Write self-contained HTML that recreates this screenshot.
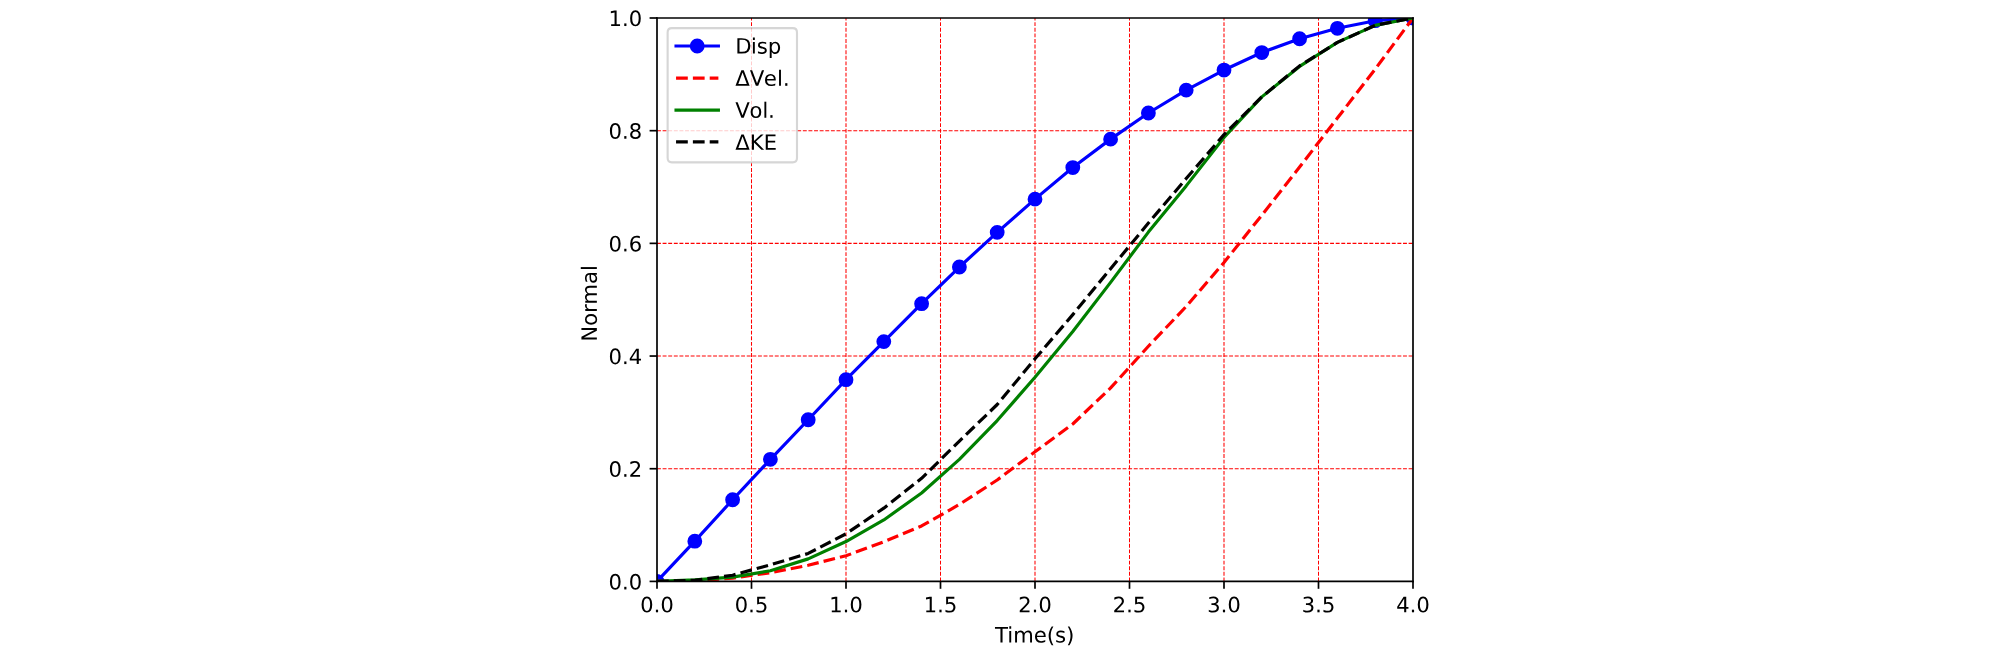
<!DOCTYPE html>
<html><head><meta charset="utf-8"><style>
html,body{margin:0;padding:0;background:#fff;font-family:"Liberation Sans",sans-serif;}
body{width:2008px;height:649px;overflow:hidden;}
</style></head><body>
<svg width="2008" height="649" viewBox="0 0 948.661417 306.614173" style="display:block">
<defs>
<style type="text/css">*{stroke-linejoin: round; stroke-linecap: butt}</style>
</defs>
<g id="figure_1">
<g id="patch_1">
<path d="M 0 306.614173
L 948.661417 306.614173
L 948.661417 0
L 0 0
z
" style="fill: #ffffff"/>
</g>
<g id="axes_1">
<g id="patch_2">
<path d="M 310.393701 274.677165
L 667.559055 274.677165
L 667.559055 8.503937
L 310.393701 8.503937
z
" style="fill: #ffffff"/>
</g>
<g id="matplotlib.axis_1">
<g id="xtick_1">
<g id="line2d_1">
<defs>
<path id="mb2d744a13c" d="M 0 0
L 0 3.5
" style="stroke: #000000; stroke-width: 0.8"/>
</defs>
<g>
<use href="#mb2d744a13c" x="310.393701" y="274.677165" style="stroke: #000000; stroke-width: 0.8"/>
</g>
</g>
<g id="text_1">
<!-- 0.0 -->
<g transform="translate(302.442138 289.275603) scale(0.1 -0.1)">
<defs>
<path id="DejaVuSans-30" d="M 2034 4250
Q 1547 4250 1301 3770
Q 1056 3291 1056 2328
Q 1056 1369 1301 889
Q 1547 409 2034 409
Q 2525 409 2770 889
Q 3016 1369 3016 2328
Q 3016 3291 2770 3770
Q 2525 4250 2034 4250
z
M 2034 4750
Q 2819 4750 3233 4129
Q 3647 3509 3647 2328
Q 3647 1150 3233 529
Q 2819 -91 2034 -91
Q 1250 -91 836 529
Q 422 1150 422 2328
Q 422 3509 836 4129
Q 1250 4750 2034 4750
z
" transform="scale(0.015625)"/>
<path id="DejaVuSans-2e" d="M 684 794
L 1344 794
L 1344 0
L 684 0
L 684 794
z
" transform="scale(0.015625)"/>
</defs>
<use href="#DejaVuSans-30"/>
<use href="#DejaVuSans-2e" transform="translate(63.623047 0)"/>
<use href="#DejaVuSans-30" transform="translate(95.410156 0)"/>
</g>
</g>
</g>
<g id="xtick_2">
<g id="line2d_2">
<path d="M 355.03937 274.677165
L 355.03937 8.503937
" clip-path="url(#pbe2b9a3860)" style="fill: none; stroke-dasharray: 1.85,0.8; stroke-dashoffset: 0; stroke: #ff0000; stroke-width: 0.5"/>
</g>
<g id="line2d_3">
<g>
<use href="#mb2d744a13c" x="355.03937" y="274.677165" style="stroke: #000000; stroke-width: 0.8"/>
</g>
</g>
<g id="text_2">
<!-- 0.5 -->
<g transform="translate(347.087808 289.275603) scale(0.1 -0.1)">
<defs>
<path id="DejaVuSans-35" d="M 691 4666
L 3169 4666
L 3169 4134
L 1269 4134
L 1269 2991
Q 1406 3038 1543 3061
Q 1681 3084 1819 3084
Q 2600 3084 3056 2656
Q 3513 2228 3513 1497
Q 3513 744 3044 326
Q 2575 -91 1722 -91
Q 1428 -91 1123 -41
Q 819 9 494 109
L 494 744
Q 775 591 1075 516
Q 1375 441 1709 441
Q 2250 441 2565 725
Q 2881 1009 2881 1497
Q 2881 1984 2565 2268
Q 2250 2553 1709 2553
Q 1456 2553 1204 2497
Q 953 2441 691 2322
L 691 4666
z
" transform="scale(0.015625)"/>
</defs>
<use href="#DejaVuSans-30"/>
<use href="#DejaVuSans-2e" transform="translate(63.623047 0)"/>
<use href="#DejaVuSans-35" transform="translate(95.410156 0)"/>
</g>
</g>
</g>
<g id="xtick_3">
<g id="line2d_4">
<path d="M 399.685039 274.677165
L 399.685039 8.503937
" clip-path="url(#pbe2b9a3860)" style="fill: none; stroke-dasharray: 1.85,0.8; stroke-dashoffset: 0; stroke: #ff0000; stroke-width: 0.5"/>
</g>
<g id="line2d_5">
<g>
<use href="#mb2d744a13c" x="399.685039" y="274.677165" style="stroke: #000000; stroke-width: 0.8"/>
</g>
</g>
<g id="text_3">
<!-- 1.0 -->
<g transform="translate(391.733477 289.275603) scale(0.1 -0.1)">
<defs>
<path id="DejaVuSans-31" d="M 794 531
L 1825 531
L 1825 4091
L 703 3866
L 703 4441
L 1819 4666
L 2450 4666
L 2450 531
L 3481 531
L 3481 0
L 794 0
L 794 531
z
" transform="scale(0.015625)"/>
</defs>
<use href="#DejaVuSans-31"/>
<use href="#DejaVuSans-2e" transform="translate(63.623047 0)"/>
<use href="#DejaVuSans-30" transform="translate(95.410156 0)"/>
</g>
</g>
</g>
<g id="xtick_4">
<g id="line2d_6">
<path d="M 444.330709 274.677165
L 444.330709 8.503937
" clip-path="url(#pbe2b9a3860)" style="fill: none; stroke-dasharray: 1.85,0.8; stroke-dashoffset: 0; stroke: #ff0000; stroke-width: 0.5"/>
</g>
<g id="line2d_7">
<g>
<use href="#mb2d744a13c" x="444.330709" y="274.677165" style="stroke: #000000; stroke-width: 0.8"/>
</g>
</g>
<g id="text_4">
<!-- 1.5 -->
<g transform="translate(436.379146 289.275603) scale(0.1 -0.1)">
<use href="#DejaVuSans-31"/>
<use href="#DejaVuSans-2e" transform="translate(63.623047 0)"/>
<use href="#DejaVuSans-35" transform="translate(95.410156 0)"/>
</g>
</g>
</g>
<g id="xtick_5">
<g id="line2d_8">
<path d="M 488.976378 274.677165
L 488.976378 8.503937
" clip-path="url(#pbe2b9a3860)" style="fill: none; stroke-dasharray: 1.85,0.8; stroke-dashoffset: 0; stroke: #ff0000; stroke-width: 0.5"/>
</g>
<g id="line2d_9">
<g>
<use href="#mb2d744a13c" x="488.976378" y="274.677165" style="stroke: #000000; stroke-width: 0.8"/>
</g>
</g>
<g id="text_5">
<!-- 2.0 -->
<g transform="translate(481.024815 289.275603) scale(0.1 -0.1)">
<defs>
<path id="DejaVuSans-32" d="M 1228 531
L 3431 531
L 3431 0
L 469 0
L 469 531
Q 828 903 1448 1529
Q 2069 2156 2228 2338
Q 2531 2678 2651 2914
Q 2772 3150 2772 3378
Q 2772 3750 2511 3984
Q 2250 4219 1831 4219
Q 1534 4219 1204 4116
Q 875 4013 500 3803
L 500 4441
Q 881 4594 1212 4672
Q 1544 4750 1819 4750
Q 2544 4750 2975 4387
Q 3406 4025 3406 3419
Q 3406 3131 3298 2873
Q 3191 2616 2906 2266
Q 2828 2175 2409 1742
Q 1991 1309 1228 531
z
" transform="scale(0.015625)"/>
</defs>
<use href="#DejaVuSans-32"/>
<use href="#DejaVuSans-2e" transform="translate(63.623047 0)"/>
<use href="#DejaVuSans-30" transform="translate(95.410156 0)"/>
</g>
</g>
</g>
<g id="xtick_6">
<g id="line2d_10">
<path d="M 533.622047 274.677165
L 533.622047 8.503937
" clip-path="url(#pbe2b9a3860)" style="fill: none; stroke-dasharray: 1.85,0.8; stroke-dashoffset: 0; stroke: #ff0000; stroke-width: 0.5"/>
</g>
<g id="line2d_11">
<g>
<use href="#mb2d744a13c" x="533.622047" y="274.677165" style="stroke: #000000; stroke-width: 0.8"/>
</g>
</g>
<g id="text_6">
<!-- 2.5 -->
<g transform="translate(525.670485 289.275603) scale(0.1 -0.1)">
<use href="#DejaVuSans-32"/>
<use href="#DejaVuSans-2e" transform="translate(63.623047 0)"/>
<use href="#DejaVuSans-35" transform="translate(95.410156 0)"/>
</g>
</g>
</g>
<g id="xtick_7">
<g id="line2d_12">
<path d="M 578.267717 274.677165
L 578.267717 8.503937
" clip-path="url(#pbe2b9a3860)" style="fill: none; stroke-dasharray: 1.85,0.8; stroke-dashoffset: 0; stroke: #ff0000; stroke-width: 0.5"/>
</g>
<g id="line2d_13">
<g>
<use href="#mb2d744a13c" x="578.267717" y="274.677165" style="stroke: #000000; stroke-width: 0.8"/>
</g>
</g>
<g id="text_7">
<!-- 3.0 -->
<g transform="translate(570.316154 289.275603) scale(0.1 -0.1)">
<defs>
<path id="DejaVuSans-33" d="M 2597 2516
Q 3050 2419 3304 2112
Q 3559 1806 3559 1356
Q 3559 666 3084 287
Q 2609 -91 1734 -91
Q 1441 -91 1130 -33
Q 819 25 488 141
L 488 750
Q 750 597 1062 519
Q 1375 441 1716 441
Q 2309 441 2620 675
Q 2931 909 2931 1356
Q 2931 1769 2642 2001
Q 2353 2234 1838 2234
L 1294 2234
L 1294 2753
L 1863 2753
Q 2328 2753 2575 2939
Q 2822 3125 2822 3475
Q 2822 3834 2567 4026
Q 2313 4219 1838 4219
Q 1578 4219 1281 4162
Q 984 4106 628 3988
L 628 4550
Q 988 4650 1302 4700
Q 1616 4750 1894 4750
Q 2613 4750 3031 4423
Q 3450 4097 3450 3541
Q 3450 3153 3228 2886
Q 3006 2619 2597 2516
z
" transform="scale(0.015625)"/>
</defs>
<use href="#DejaVuSans-33"/>
<use href="#DejaVuSans-2e" transform="translate(63.623047 0)"/>
<use href="#DejaVuSans-30" transform="translate(95.410156 0)"/>
</g>
</g>
</g>
<g id="xtick_8">
<g id="line2d_14">
<path d="M 622.913386 274.677165
L 622.913386 8.503937
" clip-path="url(#pbe2b9a3860)" style="fill: none; stroke-dasharray: 1.85,0.8; stroke-dashoffset: 0; stroke: #ff0000; stroke-width: 0.5"/>
</g>
<g id="line2d_15">
<g>
<use href="#mb2d744a13c" x="622.913386" y="274.677165" style="stroke: #000000; stroke-width: 0.8"/>
</g>
</g>
<g id="text_8">
<!-- 3.5 -->
<g transform="translate(614.961823 289.275603) scale(0.1 -0.1)">
<use href="#DejaVuSans-33"/>
<use href="#DejaVuSans-2e" transform="translate(63.623047 0)"/>
<use href="#DejaVuSans-35" transform="translate(95.410156 0)"/>
</g>
</g>
</g>
<g id="xtick_9">
<g id="line2d_16">
<g>
<use href="#mb2d744a13c" x="667.559055" y="274.677165" style="stroke: #000000; stroke-width: 0.8"/>
</g>
</g>
<g id="text_9">
<!-- 4.0 -->
<g transform="translate(659.607493 289.275603) scale(0.1 -0.1)">
<defs>
<path id="DejaVuSans-34" d="M 2419 4116
L 825 1625
L 2419 1625
L 2419 4116
z
M 2253 4666
L 3047 4666
L 3047 1625
L 3713 1625
L 3713 1100
L 3047 1100
L 3047 0
L 2419 0
L 2419 1100
L 313 1100
L 313 1709
L 2253 4666
z
" transform="scale(0.015625)"/>
</defs>
<use href="#DejaVuSans-34"/>
<use href="#DejaVuSans-2e" transform="translate(63.623047 0)"/>
<use href="#DejaVuSans-30" transform="translate(95.410156 0)"/>
</g>
</g>
</g>
<g id="xlabel" transform="translate(-0.1417 0.5669)">
<!-- Time(s) -->
<g transform="translate(470.236534 302.953728) scale(0.1 -0.1)">
<defs>
<path id="DejaVuSans-54" d="M -19 4666
L 3928 4666
L 3928 4134
L 2272 4134
L 2272 0
L 1638 0
L 1638 4134
L -19 4134
L -19 4666
z
" transform="scale(0.015625)"/>
<path id="DejaVuSans-69" d="M 603 3500
L 1178 3500
L 1178 0
L 603 0
L 603 3500
z
M 603 4863
L 1178 4863
L 1178 4134
L 603 4134
L 603 4863
z
" transform="scale(0.015625)"/>
<path id="DejaVuSans-6d" d="M 3328 2828
Q 3544 3216 3844 3400
Q 4144 3584 4550 3584
Q 5097 3584 5394 3201
Q 5691 2819 5691 2113
L 5691 0
L 5113 0
L 5113 2094
Q 5113 2597 4934 2840
Q 4756 3084 4391 3084
Q 3944 3084 3684 2787
Q 3425 2491 3425 1978
L 3425 0
L 2847 0
L 2847 2094
Q 2847 2600 2669 2842
Q 2491 3084 2119 3084
Q 1678 3084 1418 2786
Q 1159 2488 1159 1978
L 1159 0
L 581 0
L 581 3500
L 1159 3500
L 1159 2956
Q 1356 3278 1631 3431
Q 1906 3584 2284 3584
Q 2666 3584 2933 3390
Q 3200 3197 3328 2828
z
" transform="scale(0.015625)"/>
<path id="DejaVuSans-65" d="M 3597 1894
L 3597 1613
L 953 1613
Q 991 1019 1311 708
Q 1631 397 2203 397
Q 2534 397 2845 478
Q 3156 559 3463 722
L 3463 178
Q 3153 47 2828 -22
Q 2503 -91 2169 -91
Q 1331 -91 842 396
Q 353 884 353 1716
Q 353 2575 817 3079
Q 1281 3584 2069 3584
Q 2775 3584 3186 3129
Q 3597 2675 3597 1894
z
M 3022 2063
Q 3016 2534 2758 2815
Q 2500 3097 2075 3097
Q 1594 3097 1305 2825
Q 1016 2553 972 2059
L 3022 2063
z
" transform="scale(0.015625)"/>
<path id="DejaVuSans-28" d="M 1984 4856
Q 1566 4138 1362 3434
Q 1159 2731 1159 2009
Q 1159 1288 1364 580
Q 1569 -128 1984 -844
L 1484 -844
Q 1016 -109 783 600
Q 550 1309 550 2009
Q 550 2706 781 3412
Q 1013 4119 1484 4856
L 1984 4856
z
" transform="scale(0.015625)"/>
<path id="DejaVuSans-73" d="M 2834 3397
L 2834 2853
Q 2591 2978 2328 3040
Q 2066 3103 1784 3103
Q 1356 3103 1142 2972
Q 928 2841 928 2578
Q 928 2378 1081 2264
Q 1234 2150 1697 2047
L 1894 2003
Q 2506 1872 2764 1633
Q 3022 1394 3022 966
Q 3022 478 2636 193
Q 2250 -91 1575 -91
Q 1294 -91 989 -36
Q 684 19 347 128
L 347 722
Q 666 556 975 473
Q 1284 391 1588 391
Q 1994 391 2212 530
Q 2431 669 2431 922
Q 2431 1156 2273 1281
Q 2116 1406 1581 1522
L 1381 1569
Q 847 1681 609 1914
Q 372 2147 372 2553
Q 372 3047 722 3315
Q 1072 3584 1716 3584
Q 2034 3584 2315 3537
Q 2597 3491 2834 3397
z
" transform="scale(0.015625)"/>
<path id="DejaVuSans-29" d="M 513 4856
L 1013 4856
Q 1481 4119 1714 3412
Q 1947 2706 1947 2009
Q 1947 1309 1714 600
Q 1481 -109 1013 -844
L 513 -844
Q 928 -128 1133 580
Q 1338 1288 1338 2009
Q 1338 2731 1133 3434
Q 928 4138 513 4856
z
" transform="scale(0.015625)"/>
</defs>
<use href="#DejaVuSans-54"/>
<use href="#DejaVuSans-69" transform="translate(57.958984 0)"/>
<use href="#DejaVuSans-6d" transform="translate(85.742188 0)"/>
<use href="#DejaVuSans-65" transform="translate(183.154297 0)"/>
<use href="#DejaVuSans-28" transform="translate(244.677734 0)"/>
<use href="#DejaVuSans-73" transform="translate(283.691406 0)"/>
<use href="#DejaVuSans-29" transform="translate(335.791016 0)"/>
</g>
</g>
</g>
<g id="matplotlib.axis_2">
<g id="ytick_1">
<g id="line2d_17">
<defs>
<path id="mfcc83ce72d" d="M 0 0
L -3.5 0
" style="stroke: #000000; stroke-width: 0.8"/>
</defs>
<g>
<use href="#mfcc83ce72d" x="310.393701" y="274.677165" style="stroke: #000000; stroke-width: 0.8"/>
</g>
</g>
<g id="text_10">
<!-- 0.0 -->
<g transform="translate(287.490576 278.476384) scale(0.1 -0.1)">
<use href="#DejaVuSans-30"/>
<use href="#DejaVuSans-2e" transform="translate(63.623047 0)"/>
<use href="#DejaVuSans-30" transform="translate(95.410156 0)"/>
</g>
</g>
</g>
<g id="ytick_2">
<g id="line2d_18">
<path d="M 310.393701 221.44252
L 667.559055 221.44252
" clip-path="url(#pbe2b9a3860)" style="fill: none; stroke-dasharray: 1.85,0.8; stroke-dashoffset: 0; stroke: #ff0000; stroke-width: 0.5"/>
</g>
<g id="line2d_19">
<g>
<use href="#mfcc83ce72d" x="310.393701" y="221.44252" style="stroke: #000000; stroke-width: 0.8"/>
</g>
</g>
<g id="text_11">
<!-- 0.2 -->
<g transform="translate(287.490576 225.241738) scale(0.1 -0.1)">
<use href="#DejaVuSans-30"/>
<use href="#DejaVuSans-2e" transform="translate(63.623047 0)"/>
<use href="#DejaVuSans-32" transform="translate(95.410156 0)"/>
</g>
</g>
</g>
<g id="ytick_3">
<g id="line2d_20">
<path d="M 310.393701 168.207874
L 667.559055 168.207874
" clip-path="url(#pbe2b9a3860)" style="fill: none; stroke-dasharray: 1.85,0.8; stroke-dashoffset: 0; stroke: #ff0000; stroke-width: 0.5"/>
</g>
<g id="line2d_21">
<g>
<use href="#mfcc83ce72d" x="310.393701" y="168.207874" style="stroke: #000000; stroke-width: 0.8"/>
</g>
</g>
<g id="text_12">
<!-- 0.4 -->
<g transform="translate(287.490576 172.007093) scale(0.1 -0.1)">
<use href="#DejaVuSans-30"/>
<use href="#DejaVuSans-2e" transform="translate(63.623047 0)"/>
<use href="#DejaVuSans-34" transform="translate(95.410156 0)"/>
</g>
</g>
</g>
<g id="ytick_4">
<g id="line2d_22">
<path d="M 310.393701 114.973228
L 667.559055 114.973228
" clip-path="url(#pbe2b9a3860)" style="fill: none; stroke-dasharray: 1.85,0.8; stroke-dashoffset: 0; stroke: #ff0000; stroke-width: 0.5"/>
</g>
<g id="line2d_23">
<g>
<use href="#mfcc83ce72d" x="310.393701" y="114.973228" style="stroke: #000000; stroke-width: 0.8"/>
</g>
</g>
<g id="text_13">
<!-- 0.6 -->
<g transform="translate(287.490576 118.772447) scale(0.1 -0.1)">
<defs>
<path id="DejaVuSans-36" d="M 2113 2584
Q 1688 2584 1439 2293
Q 1191 2003 1191 1497
Q 1191 994 1439 701
Q 1688 409 2113 409
Q 2538 409 2786 701
Q 3034 994 3034 1497
Q 3034 2003 2786 2293
Q 2538 2584 2113 2584
z
M 3366 4563
L 3366 3988
Q 3128 4100 2886 4159
Q 2644 4219 2406 4219
Q 1781 4219 1451 3797
Q 1122 3375 1075 2522
Q 1259 2794 1537 2939
Q 1816 3084 2150 3084
Q 2853 3084 3261 2657
Q 3669 2231 3669 1497
Q 3669 778 3244 343
Q 2819 -91 2113 -91
Q 1303 -91 875 529
Q 447 1150 447 2328
Q 447 3434 972 4092
Q 1497 4750 2381 4750
Q 2619 4750 2861 4703
Q 3103 4656 3366 4563
z
" transform="scale(0.015625)"/>
</defs>
<use href="#DejaVuSans-30"/>
<use href="#DejaVuSans-2e" transform="translate(63.623047 0)"/>
<use href="#DejaVuSans-36" transform="translate(95.410156 0)"/>
</g>
</g>
</g>
<g id="ytick_5">
<g id="line2d_24">
<path d="M 310.393701 61.738583
L 667.559055 61.738583
" clip-path="url(#pbe2b9a3860)" style="fill: none; stroke-dasharray: 1.85,0.8; stroke-dashoffset: 0; stroke: #ff0000; stroke-width: 0.5"/>
</g>
<g id="line2d_25">
<g>
<use href="#mfcc83ce72d" x="310.393701" y="61.738583" style="stroke: #000000; stroke-width: 0.8"/>
</g>
</g>
<g id="text_14">
<!-- 0.8 -->
<g transform="translate(287.490576 65.537801) scale(0.1 -0.1)">
<defs>
<path id="DejaVuSans-38" d="M 2034 2216
Q 1584 2216 1326 1975
Q 1069 1734 1069 1313
Q 1069 891 1326 650
Q 1584 409 2034 409
Q 2484 409 2743 651
Q 3003 894 3003 1313
Q 3003 1734 2745 1975
Q 2488 2216 2034 2216
z
M 1403 2484
Q 997 2584 770 2862
Q 544 3141 544 3541
Q 544 4100 942 4425
Q 1341 4750 2034 4750
Q 2731 4750 3128 4425
Q 3525 4100 3525 3541
Q 3525 3141 3298 2862
Q 3072 2584 2669 2484
Q 3125 2378 3379 2068
Q 3634 1759 3634 1313
Q 3634 634 3220 271
Q 2806 -91 2034 -91
Q 1263 -91 848 271
Q 434 634 434 1313
Q 434 1759 690 2068
Q 947 2378 1403 2484
z
M 1172 3481
Q 1172 3119 1398 2916
Q 1625 2713 2034 2713
Q 2441 2713 2670 2916
Q 2900 3119 2900 3481
Q 2900 3844 2670 4047
Q 2441 4250 2034 4250
Q 1625 4250 1398 4047
Q 1172 3844 1172 3481
z
" transform="scale(0.015625)"/>
</defs>
<use href="#DejaVuSans-30"/>
<use href="#DejaVuSans-2e" transform="translate(63.623047 0)"/>
<use href="#DejaVuSans-38" transform="translate(95.410156 0)"/>
</g>
</g>
</g>
<g id="ytick_6">
<g id="line2d_26">
<g>
<use href="#mfcc83ce72d" x="310.393701" y="8.503937" style="stroke: #000000; stroke-width: 0.8"/>
</g>
</g>
<g id="text_15">
<!-- 1.0 -->
<g transform="translate(287.490576 12.303156) scale(0.1 -0.1)">
<use href="#DejaVuSans-31"/>
<use href="#DejaVuSans-2e" transform="translate(63.623047 0)"/>
<use href="#DejaVuSans-30" transform="translate(95.410156 0)"/>
</g>
</g>
</g>
<g id="ylabel" transform="translate(0.5669 1.7480)">
<!-- Normal -->
<g transform="translate(281.410888 159.681957) rotate(-90) scale(0.1 -0.1)">
<defs>
<path id="DejaVuSans-4e" d="M 628 4666
L 1478 4666
L 3547 763
L 3547 4666
L 4159 4666
L 4159 0
L 3309 0
L 1241 3903
L 1241 0
L 628 0
L 628 4666
z
" transform="scale(0.015625)"/>
<path id="DejaVuSans-6f" d="M 1959 3097
Q 1497 3097 1228 2736
Q 959 2375 959 1747
Q 959 1119 1226 758
Q 1494 397 1959 397
Q 2419 397 2687 759
Q 2956 1122 2956 1747
Q 2956 2369 2687 2733
Q 2419 3097 1959 3097
z
M 1959 3584
Q 2709 3584 3137 3096
Q 3566 2609 3566 1747
Q 3566 888 3137 398
Q 2709 -91 1959 -91
Q 1206 -91 779 398
Q 353 888 353 1747
Q 353 2609 779 3096
Q 1206 3584 1959 3584
z
" transform="scale(0.015625)"/>
<path id="DejaVuSans-72" d="M 2631 2963
Q 2534 3019 2420 3045
Q 2306 3072 2169 3072
Q 1681 3072 1420 2755
Q 1159 2438 1159 1844
L 1159 0
L 581 0
L 581 3500
L 1159 3500
L 1159 2956
Q 1341 3275 1631 3429
Q 1922 3584 2338 3584
Q 2397 3584 2469 3576
Q 2541 3569 2628 3553
L 2631 2963
z
" transform="scale(0.015625)"/>
<path id="DejaVuSans-61" d="M 2194 1759
Q 1497 1759 1228 1600
Q 959 1441 959 1056
Q 959 750 1161 570
Q 1363 391 1709 391
Q 2188 391 2477 730
Q 2766 1069 2766 1631
L 2766 1759
L 2194 1759
z
M 3341 1997
L 3341 0
L 2766 0
L 2766 531
Q 2569 213 2275 61
Q 1981 -91 1556 -91
Q 1019 -91 701 211
Q 384 513 384 1019
Q 384 1609 779 1909
Q 1175 2209 1959 2209
L 2766 2209
L 2766 2266
Q 2766 2663 2505 2880
Q 2244 3097 1772 3097
Q 1472 3097 1187 3025
Q 903 2953 641 2809
L 641 3341
Q 956 3463 1253 3523
Q 1550 3584 1831 3584
Q 2591 3584 2966 3190
Q 3341 2797 3341 1997
z
" transform="scale(0.015625)"/>
<path id="DejaVuSans-6c" d="M 603 4863
L 1178 4863
L 1178 0
L 603 0
L 603 4863
z
" transform="scale(0.015625)"/>
</defs>
<use href="#DejaVuSans-4e"/>
<use href="#DejaVuSans-6f" transform="translate(74.804688 0)"/>
<use href="#DejaVuSans-72" transform="translate(135.986328 0)"/>
<use href="#DejaVuSans-6d" transform="translate(175.349609 0)"/>
<use href="#DejaVuSans-61" transform="translate(272.761719 0)"/>
<use href="#DejaVuSans-6c" transform="translate(334.041016 0)"/>
</g>
</g>
</g>
<g id="line2d_27">
<path d="M 310.393701 274.677165
L 328.251969 255.672397
L 346.110236 236.108665
L 363.968504 216.997427
L 381.826772 198.312066
L 399.685039 179.38715
L 417.543307 161.393839
L 435.401575 143.453764
L 453.259843 126.152504
L 471.11811 109.78285
L 488.976378 94.07863
L 506.834646 79.172929
L 524.692913 65.731181
L 542.551181 53.380743
L 560.409449 42.57411
L 578.267717 33.098343
L 596.125984 24.820356
L 613.984252 18.299112
L 631.84252 13.374907
L 649.700787 9.781569
L 667.559055 8.503937
" clip-path="url(#pbe2b9a3860)" style="fill: none; stroke: #0000ff; stroke-width: 1.5; stroke-linecap: square"/>
<defs>
<path id="mfe757b27a1" d="M 0 3
C 0.795609 3 1.55874 2.683901 2.12132 2.12132
C 2.683901 1.55874 3 0.795609 3 0
C 3 -0.795609 2.683901 -1.55874 2.12132 -2.12132
C 1.55874 -2.683901 0.795609 -3 0 -3
C -0.795609 -3 -1.55874 -2.683901 -2.12132 -2.12132
C -2.683901 -1.55874 -3 -0.795609 -3 0
C -3 0.795609 -2.683901 1.55874 -2.12132 2.12132
C -1.55874 2.683901 -0.795609 3 0 3
z
" style="stroke: #0000ff"/>
</defs>
<g clip-path="url(#pbe2b9a3860)">
<use href="#mfe757b27a1" x="310.393701" y="274.677165" style="fill: #0000ff; stroke: #0000ff"/>
<use href="#mfe757b27a1" x="328.251969" y="255.672397" style="fill: #0000ff; stroke: #0000ff"/>
<use href="#mfe757b27a1" x="346.110236" y="236.108665" style="fill: #0000ff; stroke: #0000ff"/>
<use href="#mfe757b27a1" x="363.968504" y="216.997427" style="fill: #0000ff; stroke: #0000ff"/>
<use href="#mfe757b27a1" x="381.826772" y="198.312066" style="fill: #0000ff; stroke: #0000ff"/>
<use href="#mfe757b27a1" x="399.685039" y="179.38715" style="fill: #0000ff; stroke: #0000ff"/>
<use href="#mfe757b27a1" x="417.543307" y="161.393839" style="fill: #0000ff; stroke: #0000ff"/>
<use href="#mfe757b27a1" x="435.401575" y="143.453764" style="fill: #0000ff; stroke: #0000ff"/>
<use href="#mfe757b27a1" x="453.259843" y="126.152504" style="fill: #0000ff; stroke: #0000ff"/>
<use href="#mfe757b27a1" x="471.11811" y="109.78285" style="fill: #0000ff; stroke: #0000ff"/>
<use href="#mfe757b27a1" x="488.976378" y="94.07863" style="fill: #0000ff; stroke: #0000ff"/>
<use href="#mfe757b27a1" x="506.834646" y="79.172929" style="fill: #0000ff; stroke: #0000ff"/>
<use href="#mfe757b27a1" x="524.692913" y="65.731181" style="fill: #0000ff; stroke: #0000ff"/>
<use href="#mfe757b27a1" x="542.551181" y="53.380743" style="fill: #0000ff; stroke: #0000ff"/>
<use href="#mfe757b27a1" x="560.409449" y="42.57411" style="fill: #0000ff; stroke: #0000ff"/>
<use href="#mfe757b27a1" x="578.267717" y="33.098343" style="fill: #0000ff; stroke: #0000ff"/>
<use href="#mfe757b27a1" x="596.125984" y="24.820356" style="fill: #0000ff; stroke: #0000ff"/>
<use href="#mfe757b27a1" x="613.984252" y="18.299112" style="fill: #0000ff; stroke: #0000ff"/>
<use href="#mfe757b27a1" x="631.84252" y="13.374907" style="fill: #0000ff; stroke: #0000ff"/>
<use href="#mfe757b27a1" x="649.700787" y="9.781569" style="fill: #0000ff; stroke: #0000ff"/>
<use href="#mfe757b27a1" x="667.559055" y="8.503937" style="fill: #0000ff; stroke: #0000ff"/>
</g>
</g>
<g id="line2d_28">
<path d="M 310.393701 274.677165
L 328.251969 274.410992
L 346.110236 273.159978
L 363.968504 270.55148
L 381.826772 267.064611
L 399.685039 262.566283
L 417.543307 255.965187
L 435.401575 248.48572
L 453.259843 238.317902
L 471.11811 226.765984
L 488.976378 213.457323
L 506.834646 200.308365
L 524.692913 183.273279
L 542.551181 163.603077
L 560.409449 144.78463
L 578.267717 124.023118
L 596.125984 101.664567
L 613.984252 78.906756
L 631.84252 55.776302
L 649.700787 32.645849
L 667.559055 8.503937
" clip-path="url(#pbe2b9a3860)" style="fill: none; stroke-dasharray: 5.55,2.4; stroke-dashoffset: 0; stroke: #ff0000; stroke-width: 1.5"/>
</g>
<g id="line2d_29">
<path d="M 310.393701 274.677165
L 328.251969 273.958498
L 346.110236 272.680866
L 363.968504 269.619874
L 381.826772 264.030236
L 399.685039 255.858718
L 417.543307 245.664283
L 435.401575 232.887969
L 453.259843 217.024044
L 471.11811 198.684709
L 488.976378 178.242605
L 506.834646 156.629339
L 524.692913 133.419033
L 542.551181 109.649764
L 560.409449 87.823559
L 578.267717 64.932661
L 596.125984 45.768189
L 613.984252 31.394835
L 631.84252 20.029238
L 649.700787 11.964189
L 667.559055 8.503937
" clip-path="url(#pbe2b9a3860)" style="fill: none; stroke: #008000; stroke-width: 1.5; stroke-linecap: square"/>
</g>
<g id="line2d_30">
<path d="M 310.393701 274.677165
L 328.251969 274.144819
L 346.110236 271.74926
L 363.968504 266.825055
L 381.826772 261.474973
L 399.685039 252.185528
L 417.543307 240.074646
L 435.401575 225.967465
L 453.259843 208.400031
L 471.11811 191.098772
L 488.976378 169.53874
L 506.834646 148.644142
L 524.692913 126.951024
L 542.551181 105.390992
L 560.409449 84.363307
L 578.267717 63.601795
L 596.125984 45.768189
L 613.984252 31.128661
L 631.84252 20.029238
L 649.700787 11.964189
L 667.559055 8.503937
" clip-path="url(#pbe2b9a3860)" style="fill: none; stroke-dasharray: 5.55,2.4; stroke-dashoffset: 0; stroke: #000000; stroke-width: 1.5"/>
</g>
<g id="patch_3">
<path d="M 310.393701 274.677165
L 310.393701 8.503937
" style="fill: none; stroke: #000000; stroke-width: 0.8; stroke-linejoin: miter; stroke-linecap: square"/>
</g>
<g id="patch_4">
<path d="M 667.559055 274.677165
L 667.559055 8.503937
" style="fill: none; stroke: #000000; stroke-width: 0.8; stroke-linejoin: miter; stroke-linecap: square"/>
</g>
<g id="patch_5">
<path d="M 310.393701 274.677165
L 667.559055 274.677165
" style="fill: none; stroke: #000000; stroke-width: 0.8; stroke-linejoin: miter; stroke-linecap: square"/>
</g>
<g id="patch_6">
<path d="M 310.393701 8.503937
L 667.559055 8.503937
" style="fill: none; stroke: #000000; stroke-width: 0.8; stroke-linejoin: miter; stroke-linecap: square"/>
</g>
<g id="legend_1">
<g id="legframe" transform="matrix(1.001626 0 0 1.026870 -0.48922 -0.56123)">
<path d="M 317.393701 75.216437
L 374.409326 75.216437
Q 376.409326 75.216437 376.409326 73.216437
L 376.409326 15.503937
Q 376.409326 13.503937 374.409326 13.503937
L 317.393701 13.503937
Q 315.393701 13.503937 315.393701 15.503937
L 315.393701 73.216437
Q 315.393701 75.216437 317.393701 75.216437
z
" style="fill: #ffffff; opacity: 0.8; stroke: #cccccc; stroke-linejoin: miter"/>
</g>
<g id="leghandle0" transform="translate(0.0000 0.1417)">
<path d="M 319.393701 21.602375
L 329.393701 21.602375
L 339.393701 21.602375
" style="fill: none; stroke: #0000ff; stroke-width: 1.5; stroke-linecap: square"/>
<g>
<use href="#mfe757b27a1" x="329.393701" y="21.602375" style="fill: #0000ff; stroke: #0000ff"/>
</g>
</g>
<g id="legtext0" transform="translate(0.0000 0.2126)">
<!-- Disp -->
<g transform="translate(347.393701 25.102375) scale(0.1 -0.1)">
<defs>
<path id="DejaVuSans-44" d="M 1259 4147
L 1259 519
L 2022 519
Q 2988 519 3436 956
Q 3884 1394 3884 2338
Q 3884 3275 3436 3711
Q 2988 4147 2022 4147
L 1259 4147
z
M 628 4666
L 1925 4666
Q 3281 4666 3915 4102
Q 4550 3538 4550 2338
Q 4550 1131 3912 565
Q 3275 0 1925 0
L 628 0
L 628 4666
z
" transform="scale(0.015625)"/>
<path id="DejaVuSans-70" d="M 1159 525
L 1159 -1331
L 581 -1331
L 581 3500
L 1159 3500
L 1159 2969
Q 1341 3281 1617 3432
Q 1894 3584 2278 3584
Q 2916 3584 3314 3078
Q 3713 2572 3713 1747
Q 3713 922 3314 415
Q 2916 -91 2278 -91
Q 1894 -91 1617 61
Q 1341 213 1159 525
z
M 3116 1747
Q 3116 2381 2855 2742
Q 2594 3103 2138 3103
Q 1681 3103 1420 2742
Q 1159 2381 1159 1747
Q 1159 1113 1420 752
Q 1681 391 2138 391
Q 2594 391 2855 752
Q 3116 1113 3116 1747
z
" transform="scale(0.015625)"/>
</defs>
<use href="#DejaVuSans-44"/>
<use href="#DejaVuSans-69" transform="translate(73.694866 0)"/>
<use href="#DejaVuSans-73" transform="translate(101.478069 0)"/>
<use href="#DejaVuSans-70" transform="translate(153.577679 0)"/>
</g>
</g>
<g id="leghandle1" transform="translate(0.0000 0.6142)">
<path d="M 319.393701 36.2805
L 329.393701 36.2805
L 339.393701 36.2805
" style="fill: none; stroke-dasharray: 5.55,2.4; stroke-dashoffset: 0; stroke: #ff0000; stroke-width: 1.5"/>
</g>
<g id="legtext1" transform="translate(0.0000 0.7559)">
<!-- ΔVel. -->
<g transform="translate(347.393701 39.7805) scale(0.1 -0.1)">
<defs>
<path id="DejaVuSans-394" d="M 2188 4044
L 906 525
L 3472 525
L 2188 4044
z
M 50 0
L 1831 4666
L 2547 4666
L 4325 0
L 50 0
z
" transform="scale(0.015625)"/>
<path id="DejaVuSans-56" d="M 1831 0
L 50 4666
L 709 4666
L 2188 738
L 3669 4666
L 4325 4666
L 2547 0
L 1831 0
z
" transform="scale(0.015625)"/>
</defs>
<use href="#DejaVuSans-394"/>
<use href="#DejaVuSans-56" transform="translate(68.408203 0)"/>
<use href="#DejaVuSans-65" transform="translate(134.735697 0)"/>
<use href="#DejaVuSans-6c" transform="translate(197.204017 0)"/>
<use href="#DejaVuSans-2e" transform="translate(224.987220 0)"/>
</g>
</g>
<g id="leghandle2" transform="translate(0.0000 1.0630)">
<path d="M 319.393701 50.958625
L 329.393701 50.958625
L 339.393701 50.958625
" style="fill: none; stroke: #008000; stroke-width: 1.5; stroke-linecap: square"/>
</g>
<g id="legtext2" transform="translate(0.0000 1.1811)">
<!-- Vol. -->
<g transform="translate(347.393701 54.458625) scale(0.1 -0.1)">
<use href="#DejaVuSans-56"/>
<use href="#DejaVuSans-6f" transform="translate(66.799935 0)"/>
<use href="#DejaVuSans-6c" transform="translate(127.981576 0)"/>
<use href="#DejaVuSans-2e" transform="translate(154.819897 0)"/>
</g>
</g>
<g id="leghandle3" transform="translate(0.0000 1.4173)">
<path d="M 319.393701 65.63675
L 329.393701 65.63675
L 339.393701 65.63675
" style="fill: none; stroke-dasharray: 5.55,2.4; stroke-dashoffset: 0; stroke: #000000; stroke-width: 1.5"/>
</g>
<g id="legtext3" transform="translate(0.0000 1.6535)">
<!-- ΔKE -->
<g transform="translate(347.393701 69.13675) scale(0.1 -0.1)">
<defs>
<path id="DejaVuSans-4b" d="M 628 4666
L 1259 4666
L 1259 2694
L 3353 4666
L 4166 4666
L 1850 2491
L 4331 0
L 3500 0
L 1259 2247
L 1259 0
L 628 0
L 628 4666
z
" transform="scale(0.015625)"/>
<path id="DejaVuSans-45" d="M 628 4666
L 3578 4666
L 3578 4134
L 1259 4134
L 1259 2753
L 3481 2753
L 3481 2222
L 1259 2222
L 1259 531
L 3634 531
L 3634 0
L 628 0
L 628 4666
z
" transform="scale(0.015625)"/>
</defs>
<use href="#DejaVuSans-394"/>
<use href="#DejaVuSans-4b" transform="translate(68.408203 0)"/>
<use href="#DejaVuSans-45" transform="translate(133.984375 0)"/>
</g>
</g>
</g>
</g>
</g>
<defs>
<clipPath id="pbe2b9a3860">
<rect x="310.393701" y="8.503937" width="357.165354" height="266.173228"/>
</clipPath>
</defs>
</svg>

</body></html>
